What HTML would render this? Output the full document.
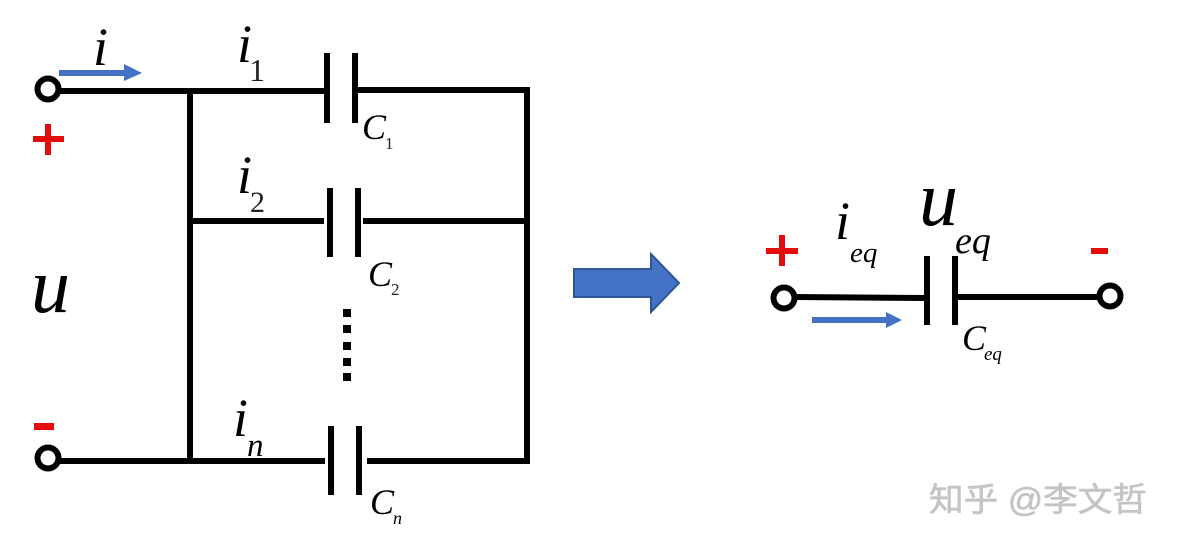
<!DOCTYPE html>
<html><head><meta charset="utf-8">
<style>
html,body{margin:0;padding:0;background:#fff;width:1177px;height:545px;overflow:hidden}
svg{display:block}
.m{font-family:"Liberation Serif",serif;font-style:italic;fill:#000}
.r{font-family:"Liberation Serif",serif;fill:#222}
.w{font-family:"Liberation Sans","Noto Sans CJK SC",sans-serif;fill:#c4c4c4;font-weight:400;stroke:#c4c4c4;stroke-width:.6}
</style></head><body>
<svg width="1177" height="545" viewBox="0 0 1177 545" xmlns="http://www.w3.org/2000/svg">
<rect width="1177" height="545" fill="#fff"/>
<g stroke="#000" stroke-width="6" fill="none">
<path d="M60 91H325M190 88V464M358 90H527M190 221H324M363 221H527M58 461H325M367 461H530M527 87V464"/>
<path d="M327 53V123M355 53V123M330 188V257M358 188V257M331 426V495M359 426V495"/>
<path d="M795 297L925 298M958 297H1097M927 256V325M955 256V325"/>
<circle cx="48" cy="89" r="10.5" fill="#fff"/>
<circle cx="48" cy="458" r="10.5" fill="#fff"/>
<circle cx="784" cy="298" r="10.5" fill="#fff"/>
<circle cx="1110" cy="296" r="10.5" fill="#fff"/>
</g>
<g fill="#000">
<rect x="343" y="309" width="8" height="8"/><rect x="343" y="325" width="8" height="8"/><rect x="343" y="342" width="8" height="8"/><rect x="343" y="358" width="8" height="8"/><rect x="343" y="373" width="8" height="8"/>
</g>
<g fill="#4472c4">
<path d="M59 70H124V64L142 73L124 81V76H59Z"/>
<path d="M812 317H886V312L902 320L886 328V323H812Z"/>
<path d="M574 269H651V254L679 283L651 312V297H574Z" stroke="#2f5597" stroke-width="2"/>
</g>
<g fill="#e60b0b">
<path d="M33 136H45V124H51V136H64V142H51V155H45V142H33Z"/>
<rect x="34" y="423" width="20" height="7"/>
<path d="M766 248H779V235H785V248H798V254H785V266H779V254H766Z"/>
<rect x="1091" y="248" width="17" height="6"/>
</g>
<text class="m" x="93" y="65" font-size="54">i</text>
<text class="m" x="237" y="62" font-size="54">i</text>
<text class="r" x="249" y="81" font-size="32" fill="#111">1</text>
<text class="m" x="237" y="193" font-size="54">i</text>
<text class="r" x="250" y="212" font-size="30">2</text>
<text class="m" x="233" y="436" font-size="54">i</text>
<text class="m" x="247" y="456" font-size="33">n</text>
<text class="m" x="31" y="312" font-size="78">u</text>
<text class="m" x="362" y="139" font-size="36">C</text>
<text class="r" x="385" y="149" font-size="17">1</text>
<text class="m" x="368" y="286" font-size="36">C</text>
<text class="r" x="391" y="295" font-size="17">2</text>
<text class="m" x="370" y="514" font-size="36">C</text>
<text class="m" x="393" y="524" font-size="18">n</text>
<text class="m" x="835" y="239" font-size="54">i</text>
<text class="m" x="850" y="262" font-size="29">eq</text>
<text class="m" x="919" y="225" font-size="78">u</text>
<text class="m" x="955" y="253" font-size="38">eq</text>
<text class="m" x="962" y="350" font-size="36">C</text>
<text class="m" x="984" y="360" font-size="19">eq</text>
<text class="w" x="929" y="511" font-size="33" textLength="218" lengthAdjust="spacingAndGlyphs">知乎 @李文哲</text>
</svg>
</body></html>
